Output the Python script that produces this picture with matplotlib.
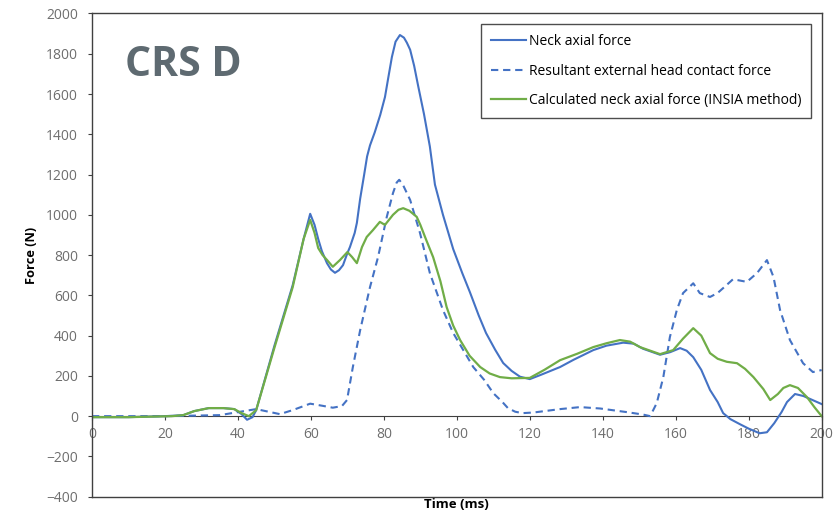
import matplotlib
matplotlib.use('Agg')
import matplotlib.pyplot as plt

# Neck axial force (solid blue)
t_neck = [0, 10, 20, 25, 28, 32, 36, 39, 41, 42.5,
          44, 45, 50, 55, 58, 59.8, 61, 62, 63, 64.4,
          65.5, 66.6, 67.7, 68.8, 70, 70.7, 72, 72.6, 73.5, 74.6,
          75.4, 76.2, 77.5, 79, 80.3, 81.2, 82.2, 83.2, 84.4, 85.5,
          86.3, 87.2, 88.3, 89.4, 91, 92.6, 94, 96.2, 99, 101.5,
          103.6, 106, 108, 110.5, 112.7, 115, 117.3, 120, 123, 128.3,
          132, 137.4, 141, 145.6, 148.5, 151, 155.7, 158.5, 161.2, 163,
          164.8, 167, 169.4, 171.5, 173, 175, 177.6, 180, 183, 185,
          187, 189, 190.5, 192.7, 195, 197.5, 200]
neck = [-5, -5, 0, 5, 25, 40, 40, 35, 10, -18,
        -5, 30, 350, 650, 880, 1005, 950, 880, 820, 760,
        728, 712, 725, 750, 810, 840, 910, 960, 1080, 1200,
        1290, 1345, 1410, 1496, 1585, 1680, 1784, 1860, 1893, 1880,
        1855, 1820, 1740, 1640, 1500, 1340, 1150, 1000, 830, 710,
        615, 500, 413, 330, 264, 225, 196, 184, 205, 244,
        280, 328, 350, 365, 360, 335, 305, 318, 338, 325,
        293, 230, 130, 70, 15, -15, -40, -62, -85, -80,
        -35, 20, 70, 110, 100, 80, 60]

# Resultant external head contact force (dashed blue)
t_head = [0, 20, 35, 40, 45, 51.5, 55, 59.8, 63, 66,
          68.5, 69.9, 71.5, 73.5, 76.2, 78.4, 80.8, 82.5, 83.5, 84.2,
          85.2, 87.2, 89.9, 92.6, 96.2, 99, 101.7, 104.5, 107.5, 110,
          112.5, 114, 116, 118, 121, 128.3, 133.8, 139.3, 146.6, 151,
          153, 154.8, 156.6, 158.4, 160.3, 162, 164.8, 166.6, 169.4, 171.5,
          173, 175.7, 179.5, 182.3, 185, 186.8, 188.6, 191.3, 194.9, 197.6,
          200]
head = [0, 0, 5, 20, 35, 10, 30, 62, 52, 42,
        50, 80, 244, 427, 641, 790, 990, 1108, 1160, 1174,
        1150, 1074, 910, 711, 527, 413, 330, 244, 180, 114,
        70, 40, 22, 15, 18, 35, 45, 38, 20, 8,
        0, 65, 194, 393, 527, 611, 660, 611, 592, 612,
        636, 680, 667, 711, 775, 691, 527, 378, 263, 219,
        229]

# Calculated neck axial force (INSIA method) (green)
t_calc = [0, 10, 22, 25, 28, 32, 36, 39, 41, 43,
          45, 50, 55, 58, 59.8, 61, 62, 63.2, 64.4, 66,
          68, 70, 71.3, 72.6, 74, 75.3, 77, 78.9, 80.3, 81.4,
          82.5, 84, 85.3, 87, 89, 90, 91.5, 93.5, 95.5, 97.2,
          99, 100.9, 103.5, 106.4, 109, 111.8, 115, 120, 124, 128.3,
          133, 137.4, 141, 144.7, 147.5, 150.2, 155.7, 159.3, 162, 164.8,
          167, 169.4, 171.5, 174, 176.8, 179, 181.3, 184, 185.9, 188,
          189.5, 191.3, 193.5, 196, 198, 200]
calc = [-5, -5, 0, 5, 25, 40, 40, 35, 15, 0,
        30, 340, 640, 880, 975, 910, 835, 800, 776, 742,
        776, 815, 790, 760, 840, 890, 924, 965, 950, 975,
        1000, 1025, 1033, 1020, 990, 950, 880, 790, 670, 542,
        450, 378, 300, 244, 212, 194, 188, 190, 230, 278,
        310, 343, 362, 378, 370, 343, 308, 328, 385, 437,
        400, 313, 285, 270, 263, 235, 194, 135, 80, 110,
        140, 154, 140, 94, 45, 0]

x_ticks = [0, 20, 40, 60, 80, 100, 120, 140, 160, 180, 200]
y_ticks = [-400, -200, 0, 200, 400, 600, 800, 1000, 1200, 1400, 1600, 1800, 2000]

blue = '#4472C4'
green = '#70AD47'
grey = '#6E6E6E'
plt.rcParams['font.family'] = ['Open Sans', 'DejaVu Sans']

fig = plt.figure(figsize=(8.38, 5.19), dpi=100)
ax = fig.add_axes([0.1098, 0.043, 0.8707, 0.931])

ax.plot(t_neck, neck, color=blue, lw=1.5, label='Neck axial force')
ax.plot(t_head, head, color=blue, lw=1.5, linestyle=(0, (3.5, 2.3)),
        label='Resultant external head contact force')
ax.plot(t_calc, calc, color=green, lw=1.6, label='Calculated neck axial force (INSIA method)')

ax.set_xlim(0, 200)
ax.set_ylim(-400, 2000)
ax.set_yticks(y_ticks)
ax.set_xticks([])
ax.tick_params(axis='y', direction='out', length=3, color='#404040', labelcolor=grey,
               labelsize=10, pad=7)
for s in ax.spines.values():
    s.set_color('#404040')
    s.set_linewidth(1.0)

# x axis drawn at force = 0
sec = ax.secondary_xaxis(400 / 2400)
sec.set_xticks(x_ticks)
sec.tick_params(direction='out', length=3, color='#404040', labelcolor=grey, labelsize=10, pad=5)
sec.spines['bottom'].set_color('#404040')

ax.set_ylabel('Force (N)', fontsize=9.3, fontweight='bold', labelpad=6)
ax.set_xlabel('Time (ms)', fontsize=9.5, fontweight='bold', labelpad=1)

ax.text(0.045, 0.893, 'CRS D', transform=ax.transAxes, fontsize=29.5, fontweight='bold',
        color='#5E6A71', va='center', ha='left')

leg = ax.legend(loc='upper right', bbox_to_anchor=(0.986, 0.978), fontsize=10,
                frameon=True, fancybox=False, edgecolor='#202020', handlelength=2.5,
                labelspacing=1.05, borderpad=0.72, handletextpad=0.2, borderaxespad=0)
leg.get_frame().set_linewidth(1.0)

fig.savefig('out.png', dpi=100)
